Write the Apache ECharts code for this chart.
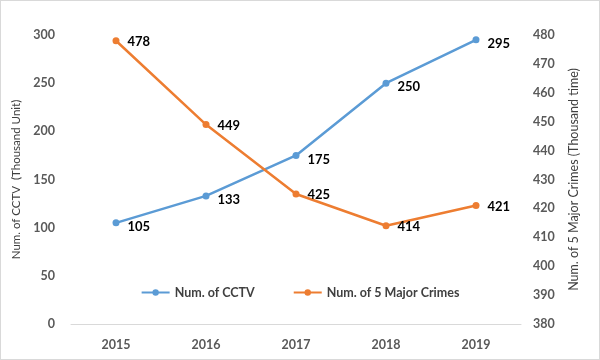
<!DOCTYPE html>
<html><head><meta charset="utf-8">
<script src="https://cdn.jsdelivr.net/npm/echarts@6/dist/echarts.min.js"></script>
<style>html,body{margin:0;padding:0;background:#fff}#c{width:598px;height:358px;border:1px solid #d9d9d9}</style>
</head><body><div id="c"></div>
<script>
const years = ['2015','2016','2017','2018','2019'];
const cctv = [105,133,175,250,295];
const crimes = [478,449,425,414,421];
const leftTicks = {min:0,max:300,interval:50};
const rightTicks = {min:380,max:480,interval:10};

const chart = echarts.init(document.getElementById('c'));
const font = 'Lato, sans-serif';
const axisLabel = {color:'#595959',fontFamily:font,fontSize:12.5,fontWeight:'bold'};
chart.setOption({
  animation:false,
  grid:{left:70,right:78,top:34,bottom:35},
  legend:{
    bottom:55,left:'center',itemGap:38,itemWidth:28,itemHeight:8,
    textStyle:{color:'#404040',fontFamily:font,fontSize:12.5,fontWeight:'bold'},
    data:['Num. of CCTV','Num. of 5 Major Crimes']
  },
  xAxis:{type:'category',data:years,
    axisLine:{lineStyle:{color:'#d9d9d9',width:1}},axisTick:{show:false},
    axisLabel:Object.assign({margin:14},axisLabel)},
  yAxis:[
    {type:'value',min:leftTicks.min,max:leftTicks.max,interval:leftTicks.interval,
     name:'Num. of CCTV  (Thousand Unit)',nameLocation:'middle',nameGap:40,
     nameTextStyle:{color:'#404040',fontFamily:font,fontSize:11.5},
     splitLine:{show:false},axisLine:{show:false},axisTick:{show:false},
     axisLabel:Object.assign({margin:16},axisLabel)},
    {type:'value',min:rightTicks.min,max:rightTicks.max,interval:rightTicks.interval,
     name:'Num. of 5 Major Crimes (Thousand time)',nameLocation:'middle',nameGap:46,
     nameTextStyle:{color:'#404040',fontFamily:font,fontSize:12.5},
     splitLine:{show:false},axisLine:{show:false},axisTick:{show:false},
     axisLabel:Object.assign({margin:12},axisLabel)}
  ],
  series:[
    {name:'Num. of CCTV',type:'line',data:cctv,yAxisIndex:0,
     color:'#5B9BD5',lineStyle:{width:2.5},symbol:'circle',symbolSize:7,
     label:{show:true,position:'right',distance:8,offset:[0,4],color:'#000',fontFamily:font,fontSize:13,fontWeight:'bold'}},
    {name:'Num. of 5 Major Crimes',type:'line',data:crimes,yAxisIndex:1,
     color:'#ED7D31',lineStyle:{width:2.5},symbol:'circle',symbolSize:7,
     label:{show:true,position:'right',distance:8,offset:[0,1],color:'#000',fontFamily:font,fontSize:13,fontWeight:'bold'}}
  ]
});
</script></body></html>
